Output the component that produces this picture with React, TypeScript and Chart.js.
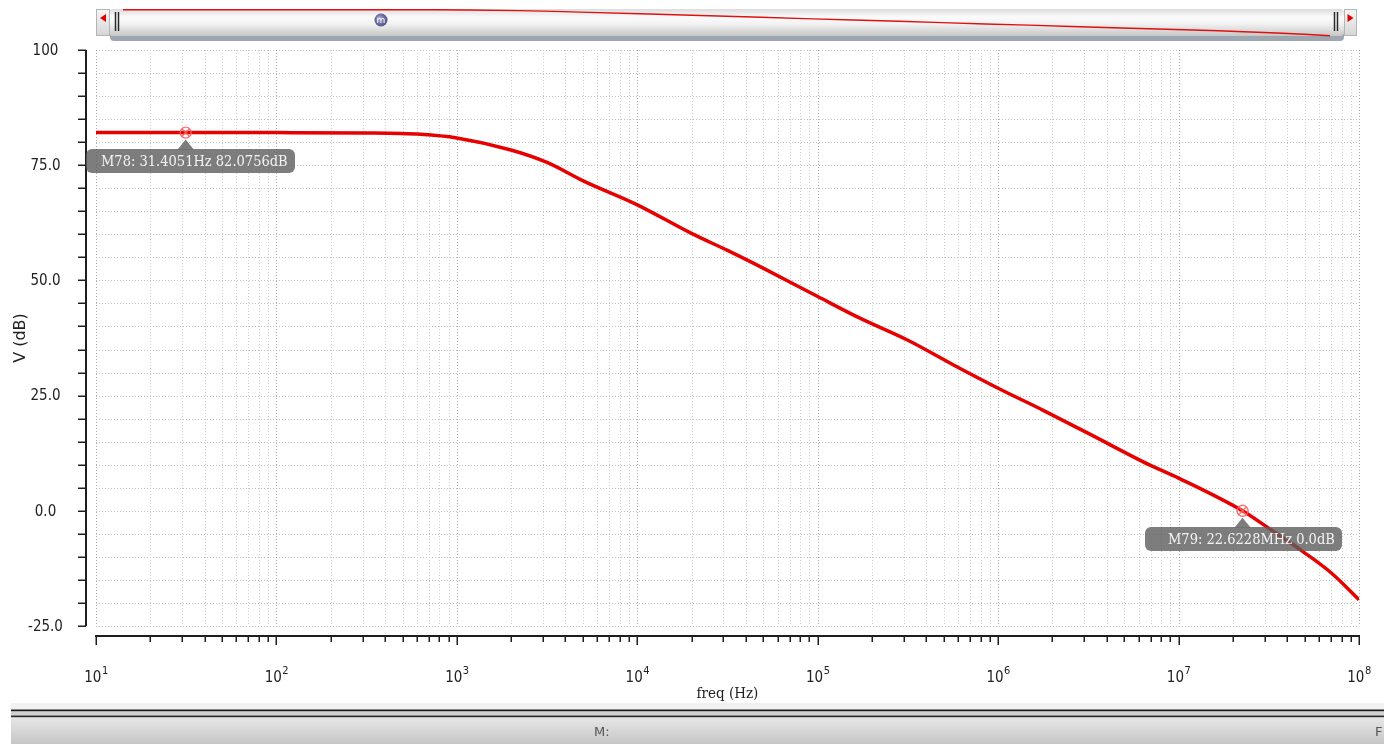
import React, { useEffect, useRef } from "react";
import { Chart, registerables } from "chart.js";

Chart.register(...registerables);

// ---- data ----
const freqHz = [
  10, 31.4051, 100, 316.2, 631, 1000, 1995, 3162, 5012, 10000, 19953, 31623, 50119,
  100000, 171400, 316228, 562341, 1000000, 1778279, 3162278, 6950243, 10000000,
  22622800, 31622777, 49091000, 70794578, 100000000,
];
const gainDb = [
  82.08, 82.0756, 82.07, 82.0, 81.7, 80.9, 78.3, 75.6, 71.6, 66.4, 60.2, 56.5, 52.6,
  46.5, 41.8, 37.0, 31.7, 26.6, 21.8, 16.8, 9.9, 7.1,
  0.0, -3.8, -8.9, -13.6, -19.3,
];

const yTickValues = [100, 75, 50, 25, 0, -25];
const yTickLabels = ["100", "75.0", "50.0", "25.0", "0.0", "-25.0"];
const yMinorStep = 5;
const xDecades = [10, 100, 1000, 10000, 100000, 1000000, 10000000, 100000000];
const xDecadeExponents = ["1", "2", "3", "4", "5", "6", "7", "8"];
const xMultipliers = [1, 2, 3, 4, 5, 6, 7, 8, 9];

const markerFreqHz = [31.4051, 22622800];
const markerDb = [82.0756, 0.0];
const markerLabels = ["M78: 31.4051Hz 82.0756dB", "M79: 22.6228MHz 0.0dB"];
const markerTextPad = [15, 23];
const markerBoxShift = [100, 98];

const xTitle = "freq (Hz)";
const yTitle = "V (dB)";

// ---- text helpers ----
let sqSans = 1;
let sqSerif = 1;
const SANS_C = '"DejaVu Sans Condensed", "DejaVu Sans", sans-serif';
const SERIF_C = '"DejaVu Serif Condensed", "DejaVu Serif", serif';

function detectSqueeze(ctx: CanvasRenderingContext2D) {
  ctx.save();
  ctx.font = '100px ' + SANS_C;
  const a = ctx.measureText("0000 Hz").width;
  ctx.font = '100px "DejaVu Sans", sans-serif';
  const b = ctx.measureText("0000 Hz").width;
  ctx.font = '100px ' + SERIF_C;
  const c = ctx.measureText("0000 Hz").width;
  ctx.font = '100px "DejaVu Serif", serif';
  const d = ctx.measureText("0000 Hz").width;
  ctx.restore();
  sqSans = a / b > 0.97 ? 0.9 : 1;
  sqSerif = c / d > 0.97 ? 0.9 : 1;
}

function txt(
  ctx: CanvasRenderingContext2D,
  s: string,
  x: number,
  y: number,
  size: number,
  opts: { serif?: boolean; align?: CanvasTextAlign; base?: CanvasTextBaseline; color?: string; plain?: boolean } = {}
) {
  ctx.save();
  const fam = opts.plain ? '"DejaVu Sans", sans-serif' : opts.serif ? SERIF_C : SANS_C;
  const sq = opts.plain ? 1 : opts.serif ? sqSerif : sqSans;
  ctx.font = `${size}px ${fam}`;
  ctx.fillStyle = opts.color || "#1a1a1a";
  ctx.textAlign = opts.align || "left";
  ctx.textBaseline = opts.base || "alphabetic";
  ctx.translate(x, y);
  ctx.scale(sq, 1);
  ctx.fillText(s, 0, 0);
  ctx.restore();
}

function txtWidth(ctx: CanvasRenderingContext2D, s: string, size: number, serif: boolean) {
  ctx.save();
  ctx.font = `${size}px ${serif ? SERIF_C : SANS_C}`;
  const w = ctx.measureText(s).width * (serif ? sqSerif : sqSans);
  ctx.restore();
  return w;
}

// ---- plugin drawing grid, axes, markers, decorations ----
const decorPlugin = {
  id: "decor",
  beforeDatasetsDraw(chart: any) {
    const { ctx, chartArea: a, scales } = chart;
    const xs = scales.x;
    const ys = scales.y;
    detectSqueeze(ctx);
    ctx.save();
    // horizontal dotted grid
    ctx.lineWidth = 1;
    ctx.setLineDash([1, 2]);
    for (let v = yTickValues[yTickValues.length - 1]; v <= yTickValues[0]; v += yMinorStep) {
      const y = Math.round(ys.getPixelForValue(v)) + 0.5;
      ctx.strokeStyle = "#c2c2c2";
      ctx.beginPath();
      ctx.moveTo(a.left, y);
      ctx.lineTo(a.right, y);
      ctx.stroke();
    }
    // vertical dotted grid
    xDecades.forEach((d, di) => {
      xMultipliers.forEach((m) => {
        if (di === xDecades.length - 1 && m > 1) return;
        const x = Math.round(xs.getPixelForValue(d * m)) + 0.5;
        ctx.strokeStyle = m === 1 ? "#a9a9a9" : "#cdcdcd";
        ctx.beginPath();
        ctx.moveTo(x, a.top);
        ctx.lineTo(x, a.bottom);
        ctx.stroke();
      });
    });
    ctx.setLineDash([]);

    // y axis
    const axX = a.left - 10;
    const yTop = ys.getPixelForValue(yTickValues[0]);
    const yBot = ys.getPixelForValue(yTickValues[yTickValues.length - 1]);
    ctx.strokeStyle = "#1e1e1e";
    ctx.lineWidth = 2;
    ctx.beginPath();
    ctx.moveTo(axX, yTop);
    ctx.lineTo(axX, yBot);
    ctx.stroke();
    ctx.lineWidth = 1.5;
    for (let v = yTickValues[yTickValues.length - 1]; v <= yTickValues[0]; v += yMinorStep) {
      const y = Math.round(ys.getPixelForValue(v)) + 0.25;
      ctx.beginPath();
      ctx.moveTo(axX - 8, y);
      ctx.lineTo(axX, y);
      ctx.stroke();
    }
    yTickValues.forEach((v, i) => {
      txt(ctx, yTickLabels[i], 45.5, ys.getPixelForValue(v) + 1, 15, { align: "center", base: "middle", color: "#222" });
    });

    // x axis
    const axY = a.bottom + 10;
    const xL = xs.getPixelForValue(xDecades[0]);
    const xR = xs.getPixelForValue(xDecades[xDecades.length - 1]);
    ctx.lineWidth = 2;
    ctx.beginPath();
    ctx.moveTo(xL - 1, axY);
    ctx.lineTo(xR + 1, axY);
    ctx.stroke();
    ctx.lineWidth = 1.5;
    xDecades.forEach((d, di) => {
      xMultipliers.forEach((m) => {
        if (di === xDecades.length - 1 && m > 1) return;
        const x = Math.round(xs.getPixelForValue(d * m)) + 0.25;
        ctx.beginPath();
        ctx.moveTo(x, axY);
        ctx.lineTo(x, axY + (m === 1 ? 9 : 6));
        ctx.stroke();
      });
    });
    xDecades.forEach((d, i) => {
      const x = xs.getPixelForValue(d);
      const w1 = txtWidth(ctx, "10", 15, false);
      const w2 = txtWidth(ctx, xDecadeExponents[i], 11, false);
      const start = x - (w1 + w2) / 2;
      txt(ctx, "10", start, axY + 46, 15, { color: "#222" });
      txt(ctx, xDecadeExponents[i], start + w1 + 0.5, axY + 38, 11, { color: "#222" });
    });

    // axis titles
    txt(ctx, xTitle, (a.left + a.right) / 2, axY + 62, 15, { serif: true, align: "center", color: "#222" });
    ctx.save();
    ctx.translate(21, (a.top + a.bottom) / 2);
    ctx.rotate(-Math.PI / 2);
    txt(ctx, yTitle, 0, 0, 16, { plain: true, align: "center", base: "middle", color: "#222" });
    ctx.restore();
    ctx.restore();
  },
  afterDatasetsDraw(chart: any) {
    const { ctx, chartArea: a, scales } = chart;
    const xs = scales.x;
    const ys = scales.y;
    ctx.save();

    // markers
    markerFreqHz.forEach((f, i) => {
      const mx = xs.getPixelForValue(f);
      const my = ys.getPixelForValue(markerDb[i]);
      const tw = txtWidth(ctx, markerLabels[i], 14.5, true);
      const bx = Math.round(mx - markerBoxShift[i]);
      const by = Math.round(my + 16);
      const bw = Math.round(tw + markerTextPad[i] + 7);
      const bh = 24;
      ctx.fillStyle = "rgba(92,92,92,0.8)";
      ctx.beginPath();
      ctx.roundRect(bx, by, bw, bh, 6);
      ctx.fill();
      ctx.beginPath();
      ctx.moveTo(mx - 8, by + 0.5);
      ctx.lineTo(mx, my + 7);
      ctx.lineTo(mx + 8, by + 0.5);
      ctx.closePath();
      ctx.fill();
      txt(ctx, markerLabels[i], bx + markerTextPad[i], by + bh / 2 + 1, 14.5, { serif: true, base: "middle", color: "#f4f4f4" });
      // circle with cross
      ctx.strokeStyle = "rgba(255,95,95,0.9)";
      ctx.lineWidth = 1.4;
      ctx.beginPath();
      ctx.arc(mx, my, 5.5, 0, Math.PI * 2);
      ctx.stroke();
      ctx.beginPath();
      ctx.moveTo(mx - 3.6, my - 3.6);
      ctx.lineTo(mx + 3.6, my + 3.6);
      ctx.moveTo(mx + 3.6, my - 3.6);
      ctx.lineTo(mx - 3.6, my + 3.6);
      ctx.stroke();
    });

    // ---- top scroll bar ----
    const sbL = a.left;
    const sbR = a.right - 2;
    const sbT = 9;
    const sbB = 36;
    ctx.fillStyle = "#9ea6b0";
    ctx.beginPath();
    ctx.roundRect(sbL + 14, sbB - 6, sbR - 13 - (sbL + 14), 11, 4);
    ctx.fill();
    let g = ctx.createLinearGradient(0, sbT, 0, sbB);
    g.addColorStop(0, "#dcdcdc");
    g.addColorStop(0.3, "#fbfbfb");
    g.addColorStop(0.55, "#f2f2f2");
    g.addColorStop(1, "#c6c6c6");
    ctx.fillStyle = g;
    ctx.beginPath();
    ctx.roundRect(sbL + 13, sbT, sbR - 13 - (sbL + 13), sbB - sbT, 4);
    ctx.fill();
    const btn = (x0: number, x1: number, dir: number) => {
      const gb = ctx.createLinearGradient(0, sbT, 0, sbB);
      gb.addColorStop(0, "#f6f6f6");
      gb.addColorStop(1, "#d6d6d6");
      ctx.fillStyle = gb;
      ctx.fillRect(x0, sbT, x1 - x0, sbB - sbT);
      ctx.strokeStyle = "#b4b4b4";
      ctx.lineWidth = 1;
      ctx.strokeRect(x0 + 0.5, sbT + 0.5, x1 - x0 - 1, sbB - sbT - 1);
      const cx = (x0 + x1) / 2;
      ctx.fillStyle = "#e00000";
      ctx.beginPath();
      ctx.moveTo(cx - 3 * dir, 18);
      ctx.lineTo(cx + 3 * dir, 14);
      ctx.lineTo(cx + 3 * dir, 22);
      ctx.closePath();
      ctx.fill();
    };
    btn(sbL, sbL + 14, 1);
    btn(sbR - 13, sbR, -1);
    ctx.strokeStyle = "#2a2a2a";
    ctx.lineWidth = 1.5;
    [sbL + 19.5, sbL + 22.5, sbR - 22.5, sbR - 19.5].forEach((x) => {
      ctx.beginPath();
      ctx.moveTo(x, 12);
      ctx.lineTo(x, 31);
      ctx.stroke();
    });
    // mini curve
    const meta = chart.getDatasetMeta(0);
    const pts = meta.data;
    const py0 = ys.getPixelForValue(gainDb[0]);
    const py1 = ys.getPixelForValue(gainDb[gainDb.length - 1]);
    const mL = sbL + 27;
    const mR = sbR - 27;
    ctx.strokeStyle = "#e01010";
    ctx.lineWidth = 1.4;
    ctx.beginPath();
    pts.forEach((p: any, i: number) => {
      const x = mL + ((p.x - a.left) / (a.right - a.left)) * (mR - mL);
      const y = sbT + 0.7 + ((p.y - py0) / (py1 - py0)) * 26;
      if (i === 0) ctx.moveTo(x, y);
      else ctx.lineTo(x, y);
    });
    ctx.stroke();
    const kx = 381;
    const ky = 20;
    const rg = ctx.createRadialGradient(kx - 2, ky - 2, 1, kx, ky, 7);
    rg.addColorStop(0, "#a4a4d0");
    rg.addColorStop(1, "#4a4a82");
    ctx.fillStyle = rg;
    ctx.beginPath();
    ctx.arc(kx, ky, 6.5, 0, Math.PI * 2);
    ctx.fill();
    txt(ctx, "m", kx, ky + 0.5, 9, { plain: true, align: "center", base: "middle", color: "#ffffff" });

    // ---- bottom bar ----
    const W = chart.width;
    ctx.fillStyle = "#f1f1f1";
    ctx.fillRect(11, 703, W - 11, 7);
    ctx.fillStyle = "#1c1c1c";
    ctx.fillRect(11, 709.5, W - 11, 2);
    ctx.fillStyle = "#d2d2d2";
    ctx.fillRect(11, 711.5, W - 11, 4);
    ctx.fillStyle = "#2a2a2a";
    ctx.fillRect(11, 715.5, W - 11, 2);
    const gg = ctx.createLinearGradient(0, 718, 0, 744);
    gg.addColorStop(0, "#e6e6e6");
    gg.addColorStop(1, "#c6c6c6");
    ctx.fillStyle = gg;
    ctx.fillRect(11, 717.5, W - 11, 27);
    txt(ctx, "M:", 594, 733, 13, { plain: true, base: "middle", color: "#555" });
    txt(ctx, "F", 1375, 733, 13, { plain: true, base: "middle", color: "#555" });
    ctx.restore();
  },
};

export default function App() {
  const ref = useRef<HTMLCanvasElement | null>(null);
  useEffect(() => {
    if (!ref.current) return;
    const chart = new Chart(ref.current, {
      type: "line",
      data: {
        datasets: [
          {
            data: freqHz.map((f, i) => ({ x: f, y: gainDb[i] })),
            borderColor: "#e60000",
            borderWidth: 3.5,
            pointRadius: 0,
            cubicInterpolationMode: "monotone",
            fill: false,
          },
        ],
      },
      options: {
        animation: false,
        responsive: false,
        maintainAspectRatio: false,
        events: [],
        layout: { padding: { left: 96, right: 25, top: 50, bottom: 118 } },
        plugins: { legend: { display: false }, tooltip: { enabled: false } },
        scales: {
          x: { type: "logarithmic", min: 10, max: 1e8, display: false },
          y: { type: "linear", min: -25, max: 100, display: false },
        },
      },
      plugins: [decorPlugin],
    } as any);
    return () => chart.destroy();
  }, []);
  return (
    <div style={{ position: "absolute", left: 0, top: 0, width: 1384, height: 744, background: "#fff" }}>
      <canvas ref={ref} width={1384} height={744} style={{ display: "block", width: 1384, height: 744 }} />
    </div>
  );
}
